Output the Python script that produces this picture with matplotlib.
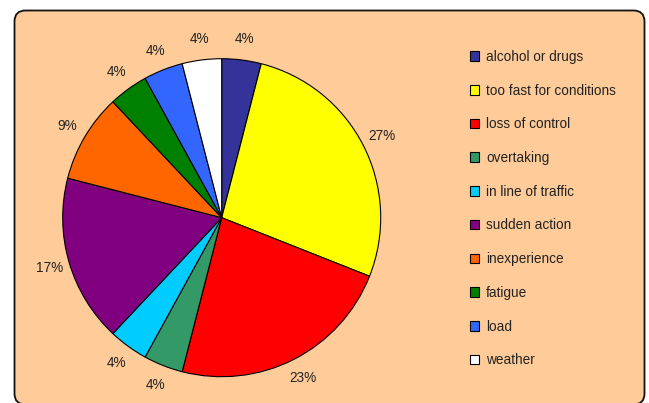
import matplotlib.pyplot as plt
from matplotlib.patches import FancyBboxPatch

plt.rcParams['font.family'] = ['Liberation Sans', 'DejaVu Sans']

causes = ["alcohol or drugs", "too fast for conditions", "loss of control",
          "overtaking", "in line of traffic", "sudden action", "inexperience",
          "fatigue", "load", "weather"]
shares = [4, 27, 23, 4, 4, 17, 9, 4, 4, 4]
colours = ["#333399", "#FFFF00", "#FF0000", "#339966", "#00CCFF",
           "#800080", "#FF6600", "#008000", "#3366FF", "#FFFFFF"]

W, H = 649, 403
fig = plt.figure(figsize=(W / 100, H / 100), dpi=100)
fig.patch.set_facecolor("white")

# background panel in pixel units
bg = fig.add_axes([0, 0, 1, 1])
bg.set_xlim(0, W)
bg.set_ylim(H, 0)
bg.axis("off")
bg.add_patch(FancyBboxPatch((14.5, 10.5), 630, 394,
                            boxstyle="round,pad=0,rounding_size=11",
                            facecolor="#FFCC99", edgecolor="#111111", lw=1.3))

# pie centred at (221.7, 217.7) px with radius 159 px
cx, cy, r = 221.7, 217.7, 159
ax = fig.add_axes([(cx - r) / W, 1 - (cy + r) / H, 2 * r / W, 2 * r / H])
wedges, texts, autotexts = ax.pie(
    shares, colors=colours, startangle=90, counterclock=False,
    autopct=lambda p: f"{p:.0f}%", pctdistance=1.13,
    wedgeprops=dict(edgecolor="black", linewidth=0.8),
    textprops=dict(fontsize=9.8, color="#222222"))
ax.set_xlim(-1, 1)
ax.set_ylim(-1, 1)

fig.legend(wedges, causes, loc="upper left",
           bbox_to_anchor=(463 / W, 1 - 43 / H), frameon=False,
           fontsize=9.8, handlelength=0.7, handleheight=0.7,
           handletextpad=0.5, labelspacing=1.45, borderpad=0,
           labelcolor="#222222")

fig.savefig("out.png", dpi=100)
